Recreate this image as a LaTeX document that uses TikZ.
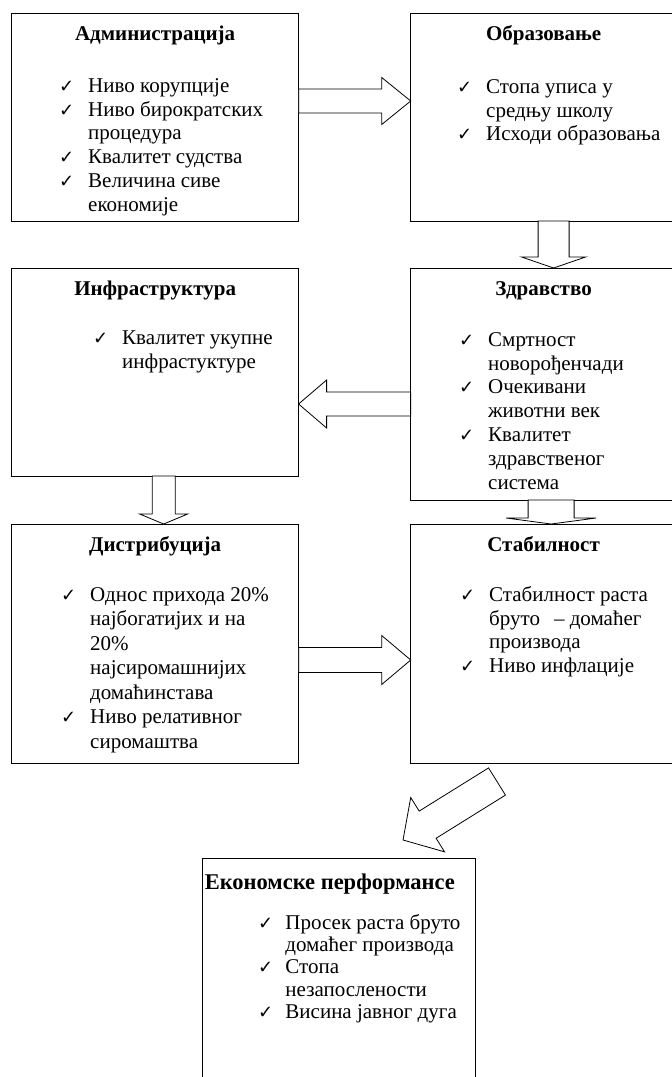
\documentclass[tikz,border=0pt]{standalone}
\usepackage{fontspec}
\setmainfont{Liberation Serif}
\newfontfamily\chkfont{DejaVu Sans}
\usetikzlibrary{calc}

\newcommand\ck[1][29pt]{\rule{0pt}{16pt}\makebox[#1][l]{\chkfont\fontsize{18}{18}\selectfont ✓}}
\newcommand\nx[1][29pt]{\hspace*{#1}}
\newcommand\blockarrow[6]{%
  \draw[arr, shift={#1}, rotate=#2] (0,#4) -- ({#3-#6},#4) -- ({#3-#6},#5) -- (#3,0)
    -- ({#3-#6},-#5) -- ({#3-#6},-#4) -- (0,-#4) -- cycle;}

\begin{document}
\begin{tikzpicture}[x=1pt, y=-1pt,
    box/.style={draw, line width=1pt, inner sep=0pt, outer sep=0pt, anchor=north west},
    head/.style={font=\fontsize{21}{24}\selectfont\bfseries, anchor=base},
    items/.style={font=\fontsize{21}{23.8}\selectfont, align=left, anchor=north west, inner sep=0pt},
    arr/.style={draw, fill=white, line width=0.8pt}]
  \useasboundingbox (0,0) rectangle (672,1077);
  \clip (0,0) rectangle (672,1077);
  \foreach \n/\x/\y/\w/\h in {adm/11.6/13/287.1/208, obr/410.6/13/266/208,
      inf/11.6/268/287.1/208, zdr/410.6/268/266/232, dis/11.6/524/287.1/239,
      sta/410.6/524/266/239, eko/202.7/858/272.3/240} {
    \node[box, minimum width=\w pt, minimum height=\h pt] (\n) at (\x,\y) {};
  }

  \node[head] (admT) at ([yshift=-27pt]adm.north) {Администрација};
  \node[head] (obrT) at ([yshift=-27pt]obr.north) {Образовање};
  \node[head] (infT) at ([yshift=-27pt]inf.north) {Инфраструктура};
  \node[head] (zdrT) at ([yshift=-27pt]zdr.north) {Здравство};
  \node[head] (disT) at ([yshift=-27pt]dis.north) {Дистрибуција};
  \node[head] (staT) at ([yshift=-27pt]sta.north) {Стабилност};
  \node[head, font=\fontsize{22.5}{24}\selectfont\bfseries] (ekoT) at ([xshift=-9pt,yshift=-31pt]eko.north) {Економске перформансе};

  \node[items] (admL) at (59,76) {\ck Ниво корупције\\ \ck Ниво бирократских\\ \nx процедура\\
    \ck Квалитет судства\\ \ck Величина сиве\\ \nx економије};
  \node[items] (obrL) at (457,77) {\ck Стопа уписа у\\ \nx средњу школу\\ \ck Исходи образовања};
  \node[items] (infL) at (93,328) {\ck Квалитет укупне\\ \nx инфрастуктуре};
  \node[items] (zdrL) at (459,330) {\ck Смртност\\ \nx новорођенчади\\ \ck Очекивани\\ \nx животни век\\
    \ck Квалитет\\ \nx здравственог\\ \nx система};
  \node[items, font=\fontsize{21}{24.5}\selectfont] (disL) at (61,585) {\ck Однос прихода 20\%\\
    \nx најбогатијих и на\\ \nx 20\%\\ \nx најсиромашнијих\\ \nx домаћинстава\\
    \ck Ниво релативног\\ \nx сиромаштва};
  \node[items] (staL) at (460,585) {\ck Стабилност раста\\ \nx бруто\hspace{14pt}– домаћег\\
    \nx производа\\ \ck Ниво инфлације};
  \node[items, font=\fontsize{21}{22.3}\selectfont] (ekoL) at (258,913) {\ck[22pt] Просек раста бруто\\
    \nx[22pt] домаћег производа\\ \ck[22pt] Стопа\\ \nx[22pt] незапослености\\
    \ck[22pt] Висина јавног дуга};

  \blockarrow{($(adm.east)+(0,-16)$)}{0}{112}{12}{23.5}{29}
  \blockarrow{($(obr.south)+(10,0)$)}{-90}{47}{15.5}{32}{11}
  \blockarrow{($(zdr.west)+(0,20)$)}{180}{112}{12}{24}{28}
  \blockarrow{($(inf.south)+(8.5,0)$)}{-90}{48}{11.5}{24}{10}
  \blockarrow{($(zdr.south)+(7.5,0)$)}{-90}{24}{23}{45}{6}
  \blockarrow{($(dis.east)+(0,16.5)$)}{0}{112}{12.5}{24.5}{29}
  \blockarrow{($(sta.south)+(-46.6,18.5)$)}{211.9}{110.7}{16}{32}{29}
\end{tikzpicture}
\end{document}
